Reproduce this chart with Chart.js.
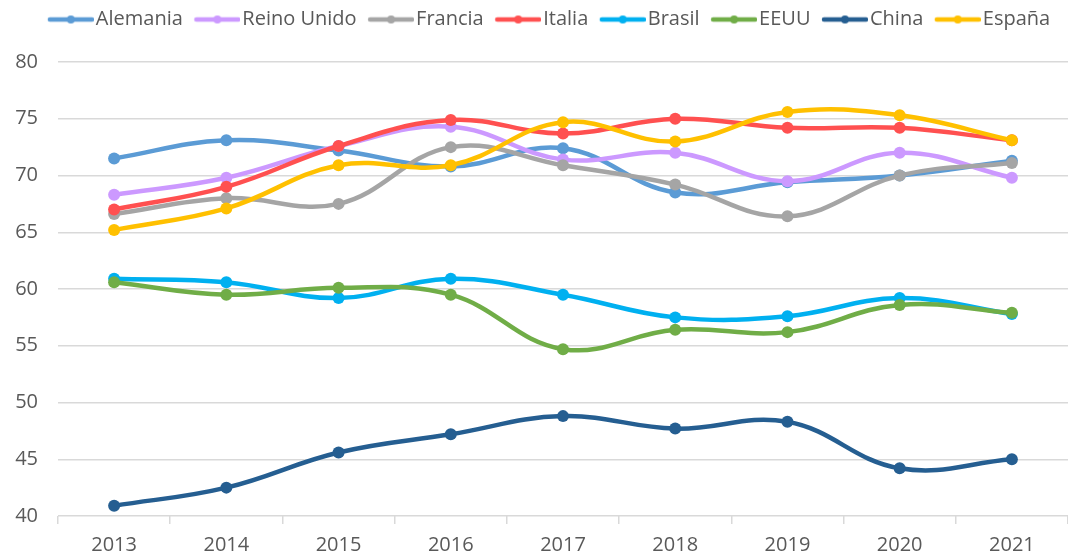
<!DOCTYPE html>
<html>
<head>
<meta charset="utf-8">
<script src="https://cdn.jsdelivr.net/npm/chart.js@4"></script>
<style>
  html, body { margin: 0; padding: 0; background: #fff; overflow: hidden; }
  canvas { display: block; }
</style>
</head>
<body>
<canvas id="chart" width="1074" height="559"></canvas>
<script>
const years = ['2013', '2014', '2015', '2016', '2017', '2018', '2019', '2020', '2021'];

const alemania   = [71.5, 73.1, 72.2, 70.8, 72.4, 68.5, 69.4, 70.0, 71.3];
const reinoUnido = [68.3, 69.8, 72.6, 74.3, 71.4, 72.0, 69.5, 72.0, 69.8];
const francia    = [66.6, 68.0, 67.5, 72.5, 70.9, 69.2, 66.4, 70.0, 71.1];
const italia     = [67.0, 69.0, 72.6, 74.9, 73.7, 75.0, 74.2, 74.2, 73.1];
const brasil     = [60.9, 60.6, 59.2, 60.9, 59.5, 57.5, 57.6, 59.2, 57.8];
const eeuu       = [60.6, 59.5, 60.1, 59.5, 54.7, 56.4, 56.2, 58.6, 57.9];
const china      = [40.9, 42.5, 45.6, 47.2, 48.8, 47.7, 48.3, 44.2, 45.0];
const espana     = [65.2, 67.1, 70.9, 70.9, 74.7, 73.0, 75.6, 75.3, 73.1];

const seriesNames  = ['Alemania', 'Reino Unido', 'Francia', 'Italia', 'Brasil', 'EEUU', 'China', 'España'];
const seriesValues = [alemania, reinoUnido, francia, italia, brasil, eeuu, china, espana];
const seriesColors = ['#5B9BD5', '#CC99FF', '#A5A5A5', '#FF5050', '#00B0F0', '#70AD47', '#255E91', '#FFC000'];

const TEXT = '#595959';
const GRID = '#d9d9d9';
const FONT = "'Open Sans', sans-serif";

// "line with a dot" legend icon, like Excel. The legend centres the icon at
// x + 20 (pointStyleWidth 40), so the canvas is wider on the left and the
// line is drawn in its right part to sit close to the text.
function legendIcon(color) {
    const c = document.createElement('canvas');
    c.width = 56;
    c.height = 12;
    const g = c.getContext('2d');
    g.strokeStyle = color;
    g.lineWidth = 4.5;
    g.lineCap = 'round';
    g.beginPath();
    g.moveTo(12, 6);
    g.lineTo(54, 6);
    g.stroke();
    g.fillStyle = color;
    g.beginPath();
    g.arc(33, 6, 4, 0, Math.PI * 2);
    g.fill();
    return c;
}
const icons = seriesColors.map(legendIcon);

const datasets = seriesNames.map((name, i) => ({
    label: name,
    data: seriesValues[i],
    borderColor: seriesColors[i],
    backgroundColor: seriesColors[i],
    pointBackgroundColor: seriesColors[i],
    borderWidth: 4.5,
    tension: 0.4,
    pointRadius: 6,
    pointHoverRadius: 6,
    pointBorderWidth: 0,
    pointStyle: 'circle',
    order: seriesNames.length - i,   // last series on top
}));

// more room under the legend, and nudge it a bit to the right
const legendSpace = {
    id: 'legendSpace',
    beforeUpdate(chart) {
        const lg = chart.legend;
        if (lg && !lg._patched) {
            const fit = lg.fit.bind(lg);
            lg.fit = function () { fit(); this.height = 62; };
            lg._patched = true;
        }
    },
    afterLayout(chart) {
        const lg = chart.legend;
        if (lg) {
            lg.left += 11;
            lg.right += 11;
        }
    },
};

new Chart(document.getElementById('chart'), {
    type: 'line',
    data: { labels: years, datasets },
    plugins: [legendSpace],
    options: {
        responsive: false,
        animation: false,
        layout: { padding: { top: 0, bottom: 0, left: 0, right: 0 } },
        plugins: {
            tooltip: { enabled: false },
            legend: {
                position: 'top',
                labels: {
                    usePointStyle: true,
                    pointStyleWidth: 40,
                    boxHeight: 12,
                    padding: 9.5,
                    color: TEXT,
                    font: { family: FONT, size: 20 },
                    sort: (a, b) => a.datasetIndex - b.datasetIndex,
                    generateLabels(chart) {
                        const items = Chart.defaults.plugins.legend.labels.generateLabels(chart);
                        items.forEach(it => { it.pointStyle = icons[it.datasetIndex]; });
                        return items;
                    },
                },
            },
        },
        scales: {
            x: {
                offset: true,
                afterFit: s => { s.height = 43; },
                grid: {
                    offset: true,
                    drawOnChartArea: false,
                    drawTicks: true,
                    tickLength: 8,
                    color: GRID,
                    lineWidth: 1.5,
                },
                border: { display: false },
                ticks: {
                    color: TEXT,
                    padding: 9,
                    maxRotation: 0,
                    font: { family: FONT, size: 20 },
                },
            },
            y: {
                min: 40,
                max: 80,
                afterFit: s => { s.width = 58; },
                grid: { color: GRID, lineWidth: 1.5, drawTicks: false },
                border: { display: false },
                ticks: {
                    stepSize: 5,
                    color: TEXT,
                    padding: 20,
                    font: { family: FONT, size: 20 },
                },
            },
        },
    },
});
</script>
</body>
</html>
